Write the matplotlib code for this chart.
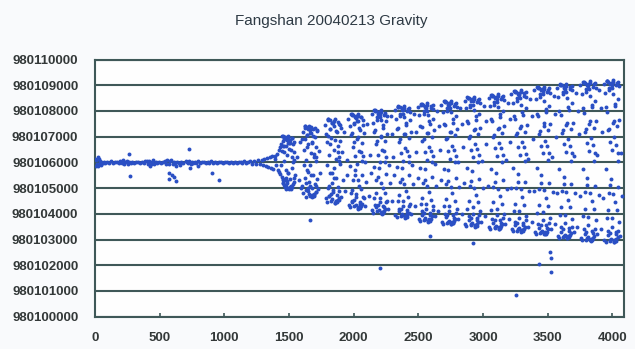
import matplotlib
matplotlib.use("Agg")
import matplotlib.pyplot as plt
import numpy as np

BASE = 980100000  # readings stored as offsets above this value

title = "Fangshan 20040213 Gravity"
x_ticks = [0, 500, 1000, 1500, 2000, 2500, 3000, 3500, 4000]
y_ticks = [980100000, 980101000, 980102000, 980103000, 980104000,
           980105000, 980106000, 980107000, 980108000, 980109000, 980110000]

# quiet part of the record (offsets above BASE)
flat_x = [0,5,10,15,20,25,30,35,40,45,
          50,60,70,80,95,110,125,140,155,170,
          185,195,205,215,225,235,245,255,265,275,
          285,300,315,330,345,360,375,390,400,410,
          420,430,440,450,460,470,480,495,510,525,
          540,550,560,570,580,590,600,610,620,635,
          650,665,680,700,710,720,730,740,750,760,
          770,780,795,810,825,840,855,870,885,900,
          915,930,945,960,975,990,1005,1020,1035,1050,
          1065,1080,1095,1110,1125,1140,1155,1170,1185,1200,
          1215,1230,1245,1260,1275,1290,1300,1310,1320,1330,
          1340,1350,1360,1370,1380,1390]
flat_y = [6150,5870,6080,5930,6200,5850,6120,5960,6050,5900,
          6030,5970,6010,5990,6020,5980,6040,5960,6000,6030,
          5970,6050,5990,6080,5950,6020,6060,5940,6010,5980,
          6030,5970,6000,6020,5990,6010,5980,6040,6070,5950,
          6060,5930,6020,6090,5940,6010,5990,6030,5970,6000,
          6060,5950,6080,5930,6040,6100,5920,6020,5980,6010,
          5990,6030,5960,6050,6020,5970,6070,5940,6010,5990,
          6030,5980,6050,5960,6000,6020,5990,6010,5970,6040,
          5990,6020,5980,6010,6030,5970,6000,6020,5980,6010,
          5990,6030,5970,6020,6000,5980,6040,5960,6020,6050,
          5940,6060,5950,6080,5920,6100,5890,6130,5860,6160,
          5830,6190,5800,6230,5760,6260]

# isolated readings
out_x = [266,274,724,732,575,596,608,575,629,629,794,905,956,428,655,
         1665,2205,2590,2925,3256,3519,3527,3429,3527]
out_y = [6310,5480,6530,5800,5590,5520,5450,5350,5290,5870,5870,5590,5300,5840,5880,
         3770,1900,3140,2860,850,2520,2270,2050,1750]

# oscillating part, read column by column (first pass)
wave_x = [
    1395,1402,1410,1415,1420,1426,1430,1433,1438,1442,1446,1450,1452,1455,1458,1461,1464,1467,1470,1473,
    1476,1480,1483,1486,1490,1494,1497,1500,1504,1508,1512,1516,1520,1525,1530,1535,1540,1548,
    1565,1575,1585,1590,
    1598,1603,1608,1612,1616,1620,1624,1628,1632,1636,1640,1644,1648,1652,1656,1660,1664,1668,1672,1676,
    1680,1684,1688,1692,1696,1700,1704,1708,1712,1716,1720,1726,1732,1740,
    1925,1935,1945,1952,
    1778,1783,1788,1792,1796,1800,1804,1808,1812,1816,1820,1824,1828,1832,1836,1840,1844,1848,1852,1856,
    1860,1864,1868,1872,1876,1880,1884,1888,1892,1896,1900,1905,1910,1918,
    1958,1963,1968,1972,1976,1980,1984,1988,1992,1996,2000,2004,2008,2012,2016,2020,2024,2028,2032,2036,
    2040,2044,2048,2052,2056,2060,2064,2068,2072,2076,2080,2085,2090,2098,2030,2050,
    2105,2115,2125,2135,
    2138,2143,2148,2152,2156,2160,2164,2168,2172,2176,2180,2184,2188,2192,2196,2200,2204,2208,2212,2216,
    2220,2224,2228,2232,2236,2240,2244,2248,2252,2256,2260,2265,2270,2278,2210,2230,
    2285,2295,2305,2315,2300,
    2318,2323,2328,2332,2336,2340,2344,2348,2352,2356,2360,2364,2368,2372,2376,2380,2384,2388,2392,2396,
    2400,2404,2408,2412,2416,2420,2424,2428,2432,2436,2440,2445,2450,2458,2390,2410,2370,2430,
    2465,2475,2485,2495,2480,
    2498,2503,2508,2512,2516,2520,2524,2528,2532,2536,2540,2544,2548,2552,2556,2560,2564,2568,2572,2576,
    2580,2584,2588,2592,2596,2600,2604,2608,2612,2616,2620,2625,2630,2638,2570,2590,2550,2610,
    2645,2655,2665,2675,2660,
    2678,2683,2688,2692,2696,2700,2704,2708,2712,2716,2720,2724,2728,2732,2736,2740,2744,2748,2752,2756,
    2760,2764,2768,2772,2776,2780,2784,2788,2792,2796,2800,2805,2810,2818,2750,2770,2730,2790,
    2825,2835,2845,2855,2840,
    2858,2863,2868,2872,2876,2880,2884,2888,2892,2896,2900,2904,2908,2912,2916,2920,2924,2928,2932,2936,
    2940,2944,2948,2952,2956,2960,2964,2968,2972,2976,2980,2985,2990,2998,2930,2950,2910,2970,
    3005,3015,3025,3035,3020,
    3043,3048,3053,3057,3061,3065,3069,3073,3077,3081,3085,3089,3093,3097,3101,3105,3109,3113,3117,3121,
    3125,3129,3133,3137,3141,3145,3149,3153,3157,3161,3165,3170,3175,3183,3115,3135,3095,3155,
    3190,3200,3210,3215,3205,
    3218,3223,3228,3232,3236,3240,3244,3248,3252,3256,3260,3264,3268,3272,3276,3280,3284,3288,3292,3296,
    3300,3304,3308,3312,3316,3320,3324,3328,3332,3336,3340,3345,3350,3358,3290,3310,3270,3330,
    3365,3375,3385,3395,3380,
    3398,3403,3408,3412,3416,3420,3424,3428,3432,3436,3440,3444,3448,3452,3456,3460,3464,3468,3472,3476,
    3480,3484,3488,3492,3496,3500,3504,3508,3512,3516,3520,3525,3530,3538,3470,3490,3450,3510,
    3545,3555,3565,3575,3560,
    3573,3578,3583,3587,3591,3595,3599,3603,3607,3611,3615,3619,3623,3627,3631,3635,3639,3643,3647,3651,
    3655,3659,3663,3667,3671,3675,3679,3683,3687,3691,3695,3700,3705,3713,3645,3665,3625,3685,
    3720,3730,3740,3750,3735,
    3753,3758,3763,3767,3771,3775,3779,3783,3787,3791,3795,3799,3803,3807,3811,3815,3819,3823,3827,3831,
    3835,3839,3843,3847,3851,3855,3859,3863,3867,3871,3875,3880,3885,3893,3825,3845,3805,3865,
    3900,3910,3920,3930,3915,
    3933,3938,3943,3947,3951,3955,3959,3963,3967,3971,3975,3979,3983,3987,3991,3995,3999,4003,4007,4011,
    4015,4019,4023,4027,4031,4035,4039,4043,4047,4051,4055,4060,4065,4072,4005,4025,3985,4045,
]
wave_y = [
    6150,5880,6320,5720,6480,5640,6600,5560,6700,5450,6450,5300,6820,5200,6900,5120,6050,5050,6980,5400,
    6620,4980,6300,5180,7020,5600,6760,5020,6880,5350,6500,5100,6940,5800,6700,5250,6400,5500,
    6200,5300,6800,5000,
    6900,5100,7200,4800,6500,5400,7350,4650,6100,5700,7050,4900,6700,5250,7420,4700,5900,6350,7150,5000,
    6800,5500,7300,4750,6200,5150,7000,4850,6600,5350,7250,4950,6450,5600,
    7200,4900,6100,5500,
    7450,4600,7100,4450,6800,5000,7650,4700,6300,5600,7300,4500,6950,5200,7550,4850,5800,6500,7680,4420,
    6150,5400,7200,4750,6650,5050,7500,4550,5950,6850,7350,4650,6400,5300,
    7700,4350,7400,4250,7050,4800,7850,4500,6600,5300,7550,4300,6250,5700,7800,4650,5950,6900,7600,4200,
    6450,5100,7250,4400,7750,4950,6750,5500,7450,4600,7150,4300,6000,5250,7880,4450,
    7500,4700,6300,5600,
    7900,4150,7550,4050,7200,4600,8000,4350,6700,5300,7750,4100,6300,5800,7950,4450,6000,7000,7650,4000,
    6500,5000,7350,4250,7850,4800,6850,5550,7600,4500,7100,4200,5900,5200,8030,4300,
    7800,4500,6200,5500,7100,
    8050,3950,7700,3880,7300,4500,8150,4200,6800,5250,7900,3900,6350,5800,8100,4300,6050,7100,7750,3850,
    6550,4900,7450,4050,8000,4650,6950,5500,7650,4400,7200,4000,5900,5150,8180,4150,3950,8120,
    7900,4300,6400,5400,7200,
    8150,3800,7850,3720,7400,4400,8250,4100,6850,5200,8000,3750,6400,5750,8200,4200,6100,7150,7850,3700,
    6600,4850,7500,3950,8100,4550,7000,5450,7700,4300,7250,3900,5950,5100,8300,4050,3800,8220,
    8000,4100,6500,5300,7400,
    8250,3700,7950,3620,7500,4300,8350,4000,6900,5150,8100,3650,6450,5700,8300,4100,6150,7200,7950,3600,
    6650,4800,7550,3850,8200,4500,7050,5400,7800,4200,7300,3800,6000,5050,8400,3950,3700,8320,
    8100,4000,6600,5200,7500,
    8400,3600,8100,3520,7600,4200,8500,3900,6950,5100,8250,3550,6500,5650,8450,4000,6200,7250,8050,3500,
    6700,4750,7650,3750,8350,4450,7100,5350,7900,4100,7350,3700,6050,5000,8550,3850,3600,8480,
    8200,3900,6700,5100,7600,
    8500,3500,8200,3420,7700,4150,8600,3800,7000,5050,8350,3450,6550,5600,8550,3950,6250,7300,8150,3400,
    6750,4700,7750,3650,8450,4400,7150,5300,8000,4000,7400,3600,6100,4950,8650,3750,3500,8580,
    8300,3800,6800,5000,7700,
    8650,3400,8300,3320,7800,4100,8750,3700,7050,5000,8500,3350,6600,5550,8700,3850,6300,7350,8250,3300,
    6800,4650,7850,3550,8600,4350,7200,5250,8100,3900,7450,3500,6150,4900,8800,3650,3400,8720,
    8450,3700,6900,4900,7800,
    8800,3300,8450,3220,7900,4050,8900,3600,7100,4950,8650,3250,6650,5500,8850,3750,6350,7400,8400,3200,
    6850,4600,7950,3450,8750,4300,7250,5200,8200,3850,7500,3400,6200,4850,8950,3550,3300,8880,
    8600,3600,7000,4800,7900,
    8900,3150,8550,3070,8000,3950,9000,3500,7150,4900,8750,3100,6700,5450,8950,3650,6400,7450,8500,3050,
    6900,4550,8050,3350,8850,4250,7300,5150,8300,3800,7550,3300,6250,4800,9050,3450,3150,8980,
    8700,3500,7100,4700,8000,
    9000,3050,8650,2970,8100,3900,9100,3400,7200,4850,8850,3000,6750,5400,9050,3550,6450,7500,8600,2950,
    6950,4500,8150,3250,8950,4200,7350,5100,8400,3750,7600,3200,6300,4750,9150,3350,3050,9080,
    8800,3400,7200,4600,8100,
    9050,3000,8700,2920,8150,3850,9150,3350,7250,4800,8900,2950,6800,5350,9100,3500,6500,7550,8650,2900,
    7000,4450,8200,3200,9000,4150,7400,5050,8450,3700,7650,3150,6350,4700,9200,3300,3000,9120,
]

# second pass: readings crowding the crests and troughs of each column
edge_x = [
    1460,1505,1485,1530,1445,1515,1490,1470,1525,1480,1540,1455,1495,1510,1465,1535,1475,1520,1450,1500,
    1635,1680,1660,1705,1620,1690,1665,1645,1700,1655,1715,1630,1670,1685,1640,1710,1650,1695,1625,1675,
    1815,1860,1840,1885,1800,1870,1845,1825,1880,1835,1895,1810,1850,1865,1820,1890,1830,1875,1805,1855,
    1995,2040,2020,2065,1980,2050,2025,2005,2060,2015,2075,1990,2030,2045,2000,2070,2010,2055,1985,2035,
    2175,2220,2200,2245,2160,2230,2205,2185,2240,2195,2255,2170,2210,2225,2180,2250,2190,2235,2165,2215,
    2355,2400,2380,2425,2340,2410,2385,2365,2420,2375,2435,2350,2390,2405,2360,2430,2370,2415,2345,2395,
    2535,2580,2560,2605,2520,2590,2565,2545,2600,2555,2615,2530,2570,2585,2540,2610,2550,2595,2525,2575,
    2715,2760,2740,2785,2700,2770,2745,2725,2780,2735,2795,2710,2750,2765,2720,2790,2730,2775,2705,2755,
    2895,2940,2920,2965,2880,2950,2925,2905,2960,2915,2975,2890,2930,2945,2900,2970,2910,2955,2885,2935,
    3080,3125,3105,3150,3065,3135,3110,3090,3145,3100,3160,3075,3115,3130,3085,3155,3095,3140,3070,3120,
    3255,3300,3280,3325,3240,3310,3285,3265,3320,3275,3335,3250,3290,3305,3260,3330,3270,3315,3245,3295,
    3435,3480,3460,3505,3420,3490,3465,3445,3500,3455,3515,3430,3470,3485,3440,3510,3450,3495,3425,3475,
    3610,3655,3635,3680,3595,3665,3640,3620,3675,3630,3690,3605,3645,3660,3615,3685,3625,3670,3600,3650,
    3790,3835,3815,3860,3775,3845,3820,3800,3855,3810,3870,3785,3825,3840,3795,3865,3805,3850,3780,3830,
    3970,4015,3995,4040,3955,4025,4000,3980,4035,3990,4050,3965,4005,4020,3975,4045,3985,4030,3960,4010,
]
edge_y = [
    6990,5030,6870,5150,7030,4980,6750,5300,6930,5090,6810,5210,6970,5010,6650,5400,6900,5060,7020,4970,
    7390,4730,7270,4850,7430,4680,7150,5000,7330,4790,7210,4910,7370,4710,7050,5100,7300,4760,7420,4670,
    7640,4500,7520,4620,7680,4450,7400,4770,7580,4560,7460,4680,7620,4480,7300,4870,7550,4530,7670,4440,
    7840,4280,7720,4400,7880,4230,7600,4550,7780,4340,7660,4460,7820,4260,7500,4650,7750,4310,7870,4220,
    7990,4080,7870,4200,8030,4030,7750,4350,7930,4140,7810,4260,7970,4060,7650,4450,7900,4110,8020,4020,
    8140,3930,8020,4050,8180,3880,7900,4200,8080,3990,7960,4110,8120,3910,7800,4300,8050,3960,8170,3870,
    8240,3780,8120,3900,8280,3730,8000,4050,8180,3840,8060,3960,8220,3760,7900,4150,8150,3810,8270,3720,
    8340,3680,8220,3800,8380,3630,8100,3950,8280,3740,8160,3860,8320,3660,8000,4050,8250,3710,8370,3620,
    8490,3580,8370,3700,8530,3530,8250,3850,8430,3640,8310,3760,8470,3560,8150,3950,8400,3610,8520,3520,
    8590,3480,8470,3600,8630,3430,8350,3750,8530,3540,8410,3660,8570,3460,8250,3850,8500,3510,8620,3420,
    8740,3380,8620,3500,8780,3330,8500,3650,8680,3440,8560,3560,8720,3360,8400,3750,8650,3410,8770,3320,
    8890,3280,8770,3400,8930,3230,8650,3550,8830,3340,8710,3460,8870,3260,8550,3650,8800,3310,8920,3220,
    8990,3130,8870,3250,9030,3080,8750,3400,8930,3190,8810,3310,8970,3110,8650,3500,8900,3160,9020,3070,
    9090,3030,8970,3150,9130,2980,8850,3300,9030,3090,8910,3210,9070,3010,8750,3400,9000,3060,9120,2970,
    9140,2980,9020,3100,9180,2930,8900,3250,9080,3040,8960,3160,9120,2960,8800,3350,9050,3010,9170,2920,
]

# third pass: readings passing through the middle of each column
mid_x = [
    1455,1500,1475,1520,1440,1510,1485,1530,1465,1495,1535,1450,
    1630,1675,1650,1695,1615,1685,1660,1705,1640,1670,1710,1625,
    1810,1855,1830,1875,1795,1865,1840,1885,1820,1850,1890,1805,
    1990,2035,2010,2055,1975,2045,2020,2065,2000,2030,2070,1985,
    2170,2215,2190,2235,2155,2225,2200,2245,2180,2210,2250,2165,
    2350,2395,2370,2415,2335,2405,2380,2425,2360,2390,2430,2345,
    2530,2575,2550,2595,2515,2585,2560,2605,2540,2570,2610,2525,
    2710,2755,2730,2775,2695,2765,2740,2785,2720,2750,2790,2705,
    2890,2935,2910,2955,2875,2945,2920,2965,2900,2930,2970,2885,
    3075,3120,3095,3140,3060,3130,3105,3150,3085,3115,3155,3070,
    3250,3295,3270,3315,3235,3305,3280,3325,3260,3290,3330,3245,
    3430,3475,3450,3495,3415,3485,3460,3505,3440,3470,3510,3425,
    3605,3650,3625,3670,3590,3660,3635,3680,3615,3645,3685,3600,
    3785,3830,3805,3850,3770,3840,3815,3860,3795,3825,3865,3780,
    3965,4010,3985,4030,3950,4020,3995,4040,3975,4005,4045,3960,
]
mid_y = [
    5370,6525,5685,6210,5895,6735,5265,6000,6420,5580,6105,6630,
    5210,6750,5630,6330,5910,7030,5070,6050,6610,5490,6190,6890,
    5076,6880,5568,6388,5896,7208,4912,6060,6716,5404,6224,7044,
    4940,6975,5495,6420,5865,7345,4755,6050,6790,5310,6235,7160,
    4810,7037,5417,6430,5822,7442,4607,6025,6835,5215,6227,7240,
    4720,7112,5372,6460,5807,7547,4502,6025,6895,5155,6242,7330,
    4620,7150,5310,6460,5770,7610,4390,6000,6920,5080,6230,7380,
    4560,7200,5280,6480,5760,7680,4320,6000,6960,5040,6240,7440,
    4510,7287,5267,6530,5772,7792,4257,6025,7035,5015,6277,7540,
    4450,7337,5237,6550,5762,7862,4187,6025,7075,4975,6287,7600,
    4400,7425,5225,6600,5775,7975,4125,6050,7150,4950,6325,7700,
    4350,7512,5212,6650,5787,8087,4062,6075,7225,4925,6362,7800,
    4250,7550,5150,6650,5750,8150,3950,6050,7250,4850,6350,7850,
    4190,7600,5120,6670,5740,8220,3880,6050,7290,4810,6360,7910,
    4160,7625,5105,6680,5735,8255,3845,6050,7310,4790,6365,7940,
]

fig = plt.figure(figsize=(6.35, 3.49), dpi=100, facecolor="#f9fafc")
ax = fig.add_axes([95/635, 1-316.7/349, (624-95)/635, (316.7-59.5)/349])
ax.set_facecolor("#fefefe")

grid_c = "#3f5858"
dot_c = "#2a4fc4"
S = 8

def vals(lst):
    return BASE + np.asarray(lst, dtype=float)

for xs, ys in ((flat_x, flat_y), (wave_x, wave_y), (edge_x, edge_y),
               (mid_x, mid_y), (out_x, out_y)):
    n = min(len(xs), len(ys))
    ax.scatter(xs[:n], vals(ys[:n]), s=S, color=dot_c, linewidths=0, zorder=3)

ax.set_xlim(0, 4090)
ax.set_ylim(y_ticks[0], y_ticks[-1])
ax.set_xticks(x_ticks)
ax.set_yticks(y_ticks)
ax.set_xticklabels([str(v) for v in x_ticks])
ax.set_yticklabels([str(v) for v in y_ticks])
for yv in y_ticks:
    ax.axhline(yv, color=grid_c, lw=1.5, zorder=1)
for sp in ax.spines.values():
    sp.set_color(grid_c)
    sp.set_linewidth(1.5)
ax.tick_params(axis="x", direction="in", length=3, width=1.2, color=grid_c, pad=11)
ax.tick_params(axis="y", length=0, pad=12)
for lab in ax.get_xticklabels() + ax.get_yticklabels():
    lab.set_fontfamily("Liberation Sans")
    lab.set_fontweight("bold")
    lab.set_fontsize(9.5)
    lab.set_color("#333838")

fig.text(331.5/635, 1-21.5/349, title, ha="center", va="center",
         fontsize=11, family="Liberation Sans", color="#2e3a44")

fig.savefig("out.png", dpi=100, facecolor=fig.get_facecolor())
